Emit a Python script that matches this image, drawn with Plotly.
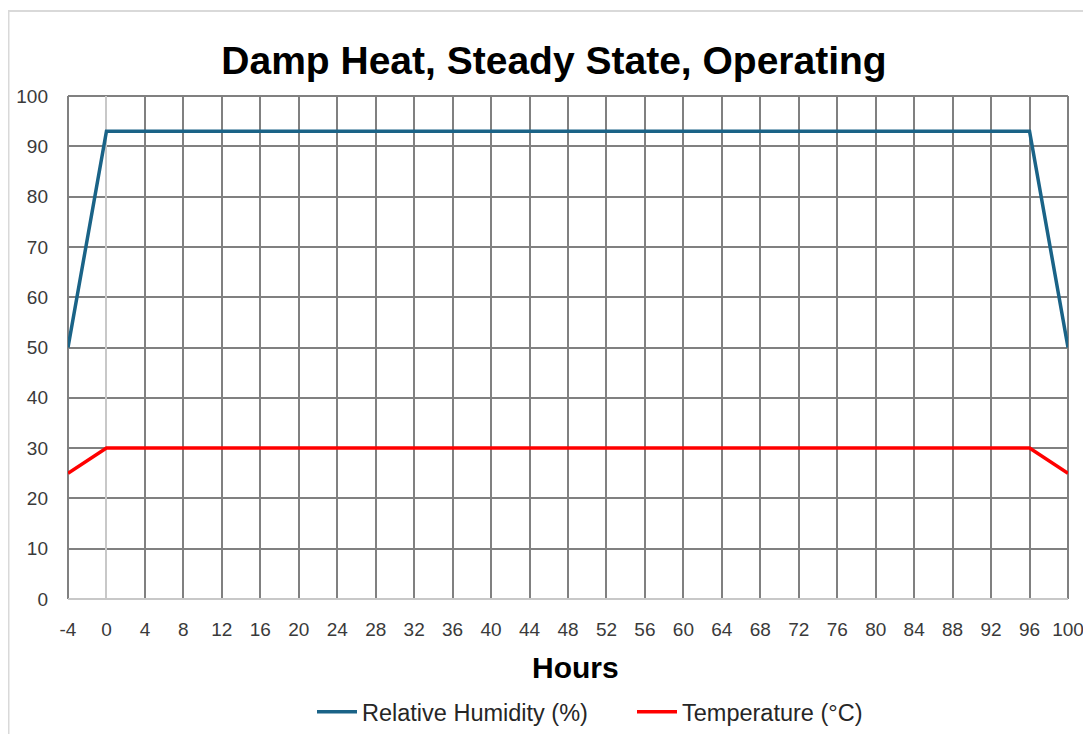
import plotly.graph_objects as go

hours = [-4, 0, 96, 100]
humidity = [50, 93, 93, 50]
temperature = [25, 30, 30, 25]
x_ticks = list(range(-4, 101, 4))
y_ticks = list(range(0, 101, 10))

# page has an 8px body margin; figure sized to fit the viewport
OFF = 8
W, H = 1091 - OFF, 734 - OFF
L, R, T, B = 68 - OFF, 1068 - OFF, 96 - OFF, 599 - OFF

def px(xp):  # page pixel -> paper x
    return (xp - OFF - L) / (R - L)

def py(yp):  # page pixel -> paper y
    return (B - (yp - OFF)) / (B - T)

fig = go.Figure()
fig.add_trace(go.Scatter(x=hours, y=humidity, mode="lines", name="Relative Humidity (%)",
                         line=dict(color="#1a6387", width=3.5)))
fig.add_trace(go.Scatter(x=hours, y=temperature, mode="lines", name="Temperature (°C)",
                         line=dict(color="#ff0000", width=3.5)))

tick_font = dict(family="Liberation Sans, Arial, sans-serif", size=19, color="#3a3a3a")
bold_font = "Liberation Sans, Arial, sans-serif"

fig.update_layout(
    template="none",
    width=W, height=H,
    margin=dict(l=L, r=W - R, t=T, b=H - B, pad=0, autoexpand=False),
    paper_bgcolor="white", plot_bgcolor="white",
    title=dict(text="<b>Damp Heat, Steady State, Operating</b>",
               x=(554 - OFF) / W, xanchor="center", y=1 - (60 - OFF) / H, yanchor="middle",
               xref="container", yref="container",
               font=dict(family=bold_font, size=39, color="black")),
    xaxis=dict(range=[-4, 100], tickvals=x_ticks, ticktext=[str(v) for v in x_ticks],
               showgrid=True, gridcolor="#808080", gridwidth=2,
               zeroline=True, zerolinecolor="#c8c8c8", zerolinewidth=2,
               showline=False, ticks="", tickfont=tick_font, ticklabelstandoff=17,
               automargin=False),
    yaxis=dict(range=[0, 100], tickvals=y_ticks,
               showgrid=True, gridcolor="#808080", gridwidth=2,
               zeroline=True, zerolinecolor="#c8c8c8", zerolinewidth=2,
               showline=False, ticks="", tickfont=tick_font, ticklabelstandoff=19,
               automargin=False),
    showlegend=True,
    legend=dict(orientation="h", xref="container", yref="container",
                x=(632 - OFF) / W, xanchor="center",
                y=1 - (712 - OFF) / H, yanchor="middle",
                font=dict(family="Liberation Sans, Arial, sans-serif", size=23.5, color="#262626"),
                itemwidth=40, entrywidth=265, entrywidthmode="pixels",
                tracegroupgap=0, bgcolor="rgba(0,0,0,0)"),
    annotations=[dict(text="<b>Hours</b>", xref="paper", yref="paper",
                      x=px(575), y=py(667),
                      xanchor="center", yanchor="middle", showarrow=False,
                      font=dict(family=bold_font, size=30, color="black"))],
    shapes=[
        dict(type="line", xref="paper", yref="paper", x0=0, x1=1, y0=1, y1=1,
             line=dict(color="#808080", width=2), layer="below"),
        dict(type="line", xref="paper", yref="paper", x0=0, x1=0, y0=0, y1=1,
             line=dict(color="#808080", width=2), layer="below"),
        dict(type="line", xref="paper", yref="paper", x0=1, x1=1, y0=0, y1=1,
             line=dict(color="#808080", width=2), layer="below"),
        # chart outer border (left and top)
        dict(type="line", xref="paper", yref="paper",
             x0=px(8.5), x1=px(8.5), y0=py(11), y1=py(745),
             line=dict(color="#d9d9d9", width=2)),
        dict(type="line", xref="paper", yref="paper",
             x0=px(8), x1=px(1100), y0=py(11), y1=py(11),
             line=dict(color="#d9d9d9", width=2)),
    ],
)

fig.write_html("out.html")
